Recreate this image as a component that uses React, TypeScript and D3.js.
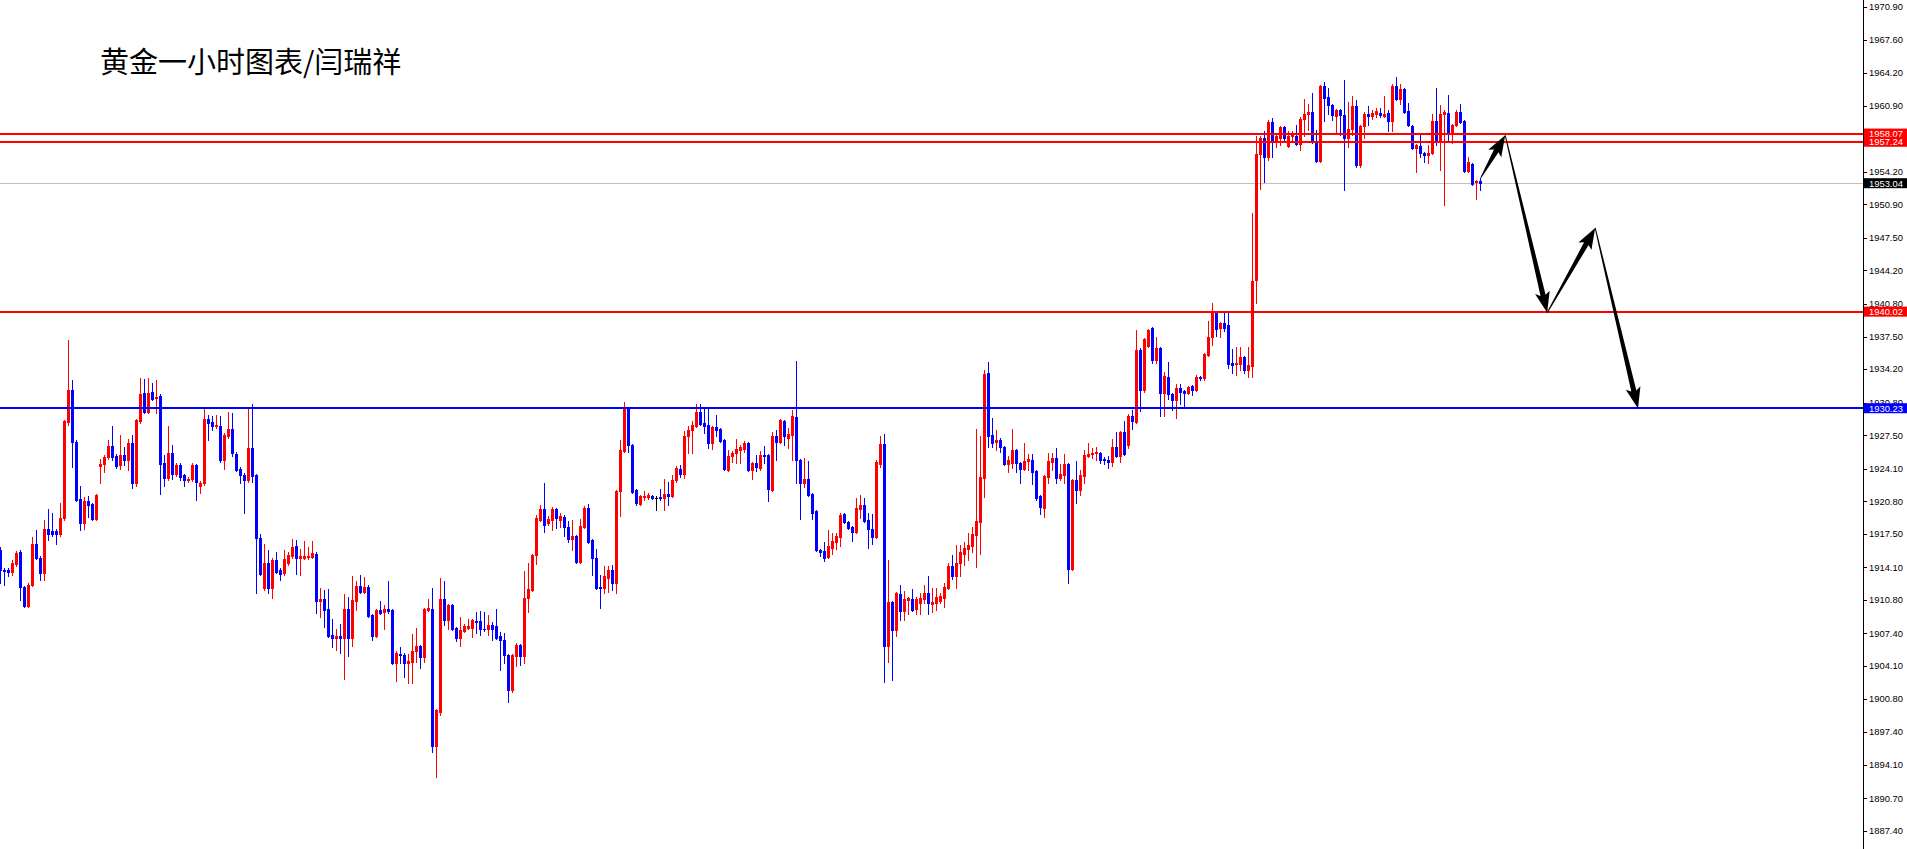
import * as d3 from "d3";
import React from "react";

// Gold 1H bars, index 0 = leftmost visible bar
const opens = [
  1915.9, 1913.8, 1913.8, 1913.6, 1914.4, 1915.7, 1912.1, 1910.2, 1912.3, 1916.5,
  1915.0, 1913.5, 1918.0, 1917.8, 1917.8, 1917.5, 1919.1, 1928.8, 1932.1, 1926.8,
  1921.0, 1918.6, 1920.8, 1920.5, 1919.0, 1924.4, 1924.6, 1925.3, 1926.4, 1925.4,
  1924.5, 1925.5, 1925.0, 1926.7, 1922.7, 1928.9, 1931.8, 1929.8, 1931.9, 1931.3,
  1931.5, 1924.7, 1923.2, 1925.7, 1923.6, 1924.5, 1923.5, 1923.0, 1923.1, 1924.5,
  1922.3, 1922.6, 1929.1, 1928.8, 1928.4, 1928.4, 1925.0, 1927.4, 1928.1, 1925.6,
  1924.1, 1923.5, 1923.0, 1926.2, 1923.5, 1917.1, 1912.0, 1914.5, 1912.0, 1914.8,
  1913.8, 1913.5, 1914.5, 1915.2, 1916.3, 1915.0, 1915.0, 1915.1, 1915.1, 1915.5,
  1910.7, 1910.9, 1909.9, 1907.2, 1906.9, 1907.1, 1906.9, 1909.9, 1906.9, 1910.7,
  1912.2, 1911.6, 1912.1, 1909.3, 1907.1, 1909.8, 1909.6, 1909.9, 1909.8, 1904.4,
  1905.3, 1905.2, 1904.4, 1904.5, 1905.6, 1906.1, 1905.0, 1909.8, 1909.9, 1896.0,
  1899.4, 1910.9, 1908.8, 1910.3, 1908.0, 1906.9, 1907.6, 1908.0, 1908.0, 1908.7,
  1908.7, 1907.9, 1907.8, 1908.3, 1908.2, 1907.1, 1906.7, 1905.2, 1901.7, 1905.1,
  1906.2, 1905.1, 1911.0, 1911.8, 1915.4, 1918.9, 1920.0, 1918.6, 1918.9, 1920.0,
  1918.9, 1919.2, 1918.2, 1917.0, 1917.3, 1914.6, 1918.2, 1920.1, 1916.9, 1915.0,
  1912.1, 1912.0, 1913.0, 1913.8, 1912.5, 1921.8, 1925.9, 1930.3, 1926.5, 1921.9,
  1920.5, 1921.2, 1921.2, 1921.3, 1921.1, 1921.2, 1921.1, 1921.5, 1921.3, 1923.0,
  1924.1, 1923.6, 1927.4, 1928.0, 1928.4, 1929.8, 1928.7, 1928.5, 1926.7, 1928.3,
  1928.1, 1927.0, 1924.0, 1925.4, 1925.7, 1926.0, 1926.1, 1926.7, 1924.0, 1924.7,
  1924.2, 1925.5, 1925.5, 1921.9, 1927.4, 1926.8, 1928.9, 1927.2, 1927.5, 1929.3,
  1925.0, 1922.6, 1923.1, 1921.5, 1919.8, 1915.9, 1915.8, 1915.1, 1916.1, 1916.7,
  1917.2, 1919.5, 1918.7, 1918.2, 1917.7, 1920.0, 1920.4, 1918.9, 1918.0, 1917.2,
  1924.6, 1926.6, 1906.1, 1910.6, 1907.7, 1911.4, 1909.7, 1910.8, 1910.9, 1909.9,
  1910.5, 1910.9, 1911.5, 1910.4, 1910.5, 1910.7, 1911.0, 1912.0, 1914.2, 1913.2,
  1914.5, 1915.5, 1916.0, 1916.3, 1917.4, 1918.7, 1923.2, 1933.8, 1927.5, 1926.8,
  1927.0, 1926.3, 1924.6, 1924.7, 1926.0, 1924.7, 1924.1, 1924.9, 1925.0, 1923.9,
  1921.3, 1920.1, 1923.3, 1924.8, 1925.2, 1923.2, 1923.5, 1924.6, 1913.9, 1923.0,
  1921.9, 1923.4, 1925.4, 1925.6, 1925.7, 1925.7, 1925.1, 1925.0, 1924.8, 1926.3,
  1925.4, 1927.8, 1926.5, 1929.4, 1928.8, 1936.1, 1932.1, 1936.5, 1938.4, 1935.1,
  1936.3, 1931.8, 1933.4, 1931.7, 1931.1, 1932.3, 1932.0, 1931.8, 1932.5, 1932.1,
  1933.4, 1933.3, 1935.6, 1937.5, 1940.0, 1938.4, 1938.9, 1938.7, 1934.8, 1934.7,
  1934.7, 1935.4, 1934.1, 1934.5, 1943.2, 1956.0, 1957.6, 1955.7, 1959.2, 1957.2,
  1957.6, 1958.7, 1956.8, 1957.8, 1957.8, 1957.0, 1959.5, 1960.1, 1960.3, 1957.2,
  1955.3, 1962.9, 1961.8, 1961.0, 1959.9, 1960.5, 1960.0, 1957.6, 1958.5, 1960.9,
  1954.9, 1958.8, 1960.1, 1959.9, 1960.1, 1960.2, 1959.9, 1960.2, 1959.3, 1962.9,
  1961.6, 1962.6, 1960.4, 1958.8, 1956.6, 1956.8, 1956.1, 1955.9, 1956.1, 1959.3,
  1957.4, 1960.1, 1960.2, 1958.2, 1958.9, 1960.3, 1959.3, 1954.3, 1955.0, 1953.2,
  1953.3,
];

const highs = [
  1916.2, 1914.0, 1914.0, 1914.8, 1915.8, 1915.9, 1912.2, 1912.5, 1917.2, 1917.9,
  1915.2, 1918.9, 1920.0, 1919.6, 1918.0, 1920.6, 1929.0, 1937.1, 1933.1, 1927.0,
  1922.3, 1921.2, 1921.3, 1920.6, 1921.5, 1925.1, 1925.5, 1927.0, 1928.4, 1925.6,
  1927.5, 1926.3, 1927.1, 1927.5, 1929.1, 1933.3, 1933.2, 1933.3, 1932.8, 1933.1,
  1931.7, 1925.5, 1928.4, 1926.5, 1924.7, 1924.7, 1923.6, 1923.3, 1924.7, 1924.6,
  1922.9, 1930.2, 1929.5, 1929.4, 1929.5, 1929.4, 1927.7, 1929.8, 1929.7, 1925.8,
  1924.3, 1923.7, 1930.2, 1930.7, 1923.6, 1917.5, 1916.5, 1915.9, 1915.0, 1915.7,
  1914.0, 1915.9, 1915.7, 1917.0, 1916.9, 1916.0, 1916.8, 1916.2, 1916.8, 1915.7,
  1912.0, 1911.8, 1911.9, 1908.9, 1907.8, 1908.4, 1911.4, 1911.1, 1913.2, 1912.7,
  1913.3, 1913.1, 1912.3, 1909.4, 1909.9, 1910.7, 1910.3, 1912.7, 1909.9, 1905.6,
  1906.0, 1905.4, 1905.3, 1907.3, 1908.0, 1906.2, 1910.0, 1910.9, 1912.0, 1899.7,
  1913.0, 1912.7, 1910.4, 1910.4, 1908.1, 1909.1, 1908.4, 1908.9, 1908.9, 1909.6,
  1909.7, 1909.6, 1909.3, 1908.6, 1909.9, 1907.5, 1907.4, 1905.3, 1905.3, 1906.4,
  1906.3, 1913.7, 1914.5, 1915.5, 1919.4, 1920.4, 1922.7, 1919.3, 1920.2, 1920.1,
  1919.6, 1919.4, 1918.8, 1918.9, 1917.4, 1919.0, 1920.3, 1920.5, 1917.0, 1916.0,
  1913.3, 1914.2, 1914.2, 1914.3, 1921.9, 1927.0, 1930.9, 1930.4, 1926.6, 1922.0,
  1921.4, 1921.8, 1921.6, 1921.4, 1921.3, 1922.0, 1923.1, 1922.8, 1923.5, 1924.4,
  1924.5, 1927.9, 1928.4, 1928.9, 1930.7, 1930.7, 1930.2, 1930.3, 1928.4, 1929.5,
  1928.2, 1927.1, 1926.0, 1925.9, 1927.1, 1926.5, 1926.9, 1926.8, 1924.8, 1925.5,
  1925.9, 1926.4, 1925.6, 1927.8, 1928.0, 1929.1, 1929.0, 1928.2, 1930.1, 1935.0,
  1925.1, 1925.2, 1924.9, 1921.6, 1919.9, 1916.0, 1916.7, 1917.9, 1917.6, 1917.6,
  1919.6, 1919.6, 1918.8, 1918.3, 1921.1, 1921.4, 1921.1, 1919.6, 1919.5, 1925.0,
  1927.4, 1927.6, 1914.8, 1910.7, 1911.6, 1912.3, 1911.7, 1911.1, 1911.9, 1911.1,
  1911.5, 1912.3, 1913.2, 1912.0, 1912.0, 1911.5, 1912.5, 1914.5, 1915.4, 1916.4,
  1916.4, 1916.7, 1917.6, 1918.2, 1928.1, 1927.4, 1934.1, 1934.9, 1929.2, 1928.0,
  1927.2, 1926.4, 1925.4, 1928.1, 1926.1, 1924.8, 1926.7, 1925.6, 1925.6, 1924.0,
  1921.4, 1923.5, 1925.7, 1925.7, 1926.2, 1924.6, 1925.6, 1924.7, 1923.1, 1924.9,
  1924.0, 1926.0, 1926.7, 1926.2, 1926.3, 1925.8, 1925.3, 1925.4, 1927.1, 1927.8,
  1927.9, 1928.9, 1929.6, 1930.0, 1938.2, 1936.3, 1937.3, 1938.3, 1938.5, 1937.4,
  1936.4, 1933.9, 1934.9, 1931.8, 1932.7, 1932.7, 1932.1, 1932.5, 1932.6, 1933.6,
  1933.5, 1935.8, 1939.1, 1940.9, 1940.1, 1939.0, 1940.0, 1940.0, 1936.2, 1936.4,
  1936.4, 1935.5, 1936.4, 1950.0, 1957.8, 1957.8, 1958.3, 1959.4, 1959.6, 1957.9,
  1958.8, 1958.8, 1958.3, 1958.3, 1958.9, 1959.8, 1961.6, 1961.1, 1962.2, 1958.4,
  1963.0, 1963.3, 1962.7, 1961.1, 1960.6, 1960.6, 1963.5, 1961.3, 1961.9, 1961.5,
  1958.9, 1960.3, 1960.9, 1960.5, 1960.7, 1960.7, 1961.9, 1960.5, 1963.1, 1963.8,
  1963.1, 1962.7, 1961.2, 1958.9, 1957.0, 1958.1, 1956.2, 1956.9, 1960.1, 1962.7,
  1961.0, 1960.5, 1962.0, 1959.0, 1960.5, 1961.1, 1959.4, 1955.7, 1955.1, 1953.4,
  1953.6,
];

const lows = [
  1912.5, 1912.3, 1913.2, 1913.3, 1914.2, 1910.8, 1910.1, 1910.1, 1912.2, 1914.9,
  1912.8, 1912.8, 1916.9, 1917.3, 1916.5, 1917.3, 1918.9, 1928.5, 1924.3, 1920.8,
  1917.9, 1918.0, 1919.2, 1918.9, 1918.9, 1922.6, 1923.8, 1925.1, 1925.0, 1924.2,
  1924.1, 1924.5, 1924.0, 1922.1, 1922.3, 1928.7, 1929.7, 1929.7, 1931.1, 1929.7,
  1921.5, 1922.3, 1923.0, 1923.1, 1923.4, 1923.0, 1922.3, 1922.8, 1922.9, 1920.9,
  1921.6, 1922.4, 1927.0, 1928.0, 1928.2, 1924.8, 1924.1, 1927.2, 1925.4, 1923.9,
  1922.6, 1919.6, 1922.8, 1922.8, 1911.5, 1913.3, 1911.8, 1911.5, 1911.0, 1913.5,
  1912.8, 1913.3, 1914.3, 1915.0, 1913.4, 1913.3, 1914.9, 1914.9, 1915.0, 1909.5,
  1909.1, 1908.1, 1907.0, 1906.0, 1905.7, 1905.4, 1902.8, 1905.1, 1906.1, 1909.8,
  1911.5, 1911.5, 1909.1, 1906.7, 1907.0, 1909.4, 1907.8, 1909.5, 1904.3, 1902.6,
  1904.4, 1903.0, 1902.4, 1902.4, 1904.5, 1903.9, 1904.5, 1909.7, 1895.4, 1892.8,
  1899.1, 1908.3, 1907.9, 1907.7, 1906.6, 1906.1, 1907.5, 1907.8, 1907.0, 1907.4,
  1907.2, 1907.6, 1907.2, 1906.7, 1906.8, 1903.7, 1904.4, 1900.5, 1901.5, 1904.1,
  1904.2, 1904.4, 1909.6, 1911.7, 1914.4, 1918.8, 1917.7, 1918.4, 1917.9, 1918.1,
  1918.2, 1917.3, 1916.7, 1915.9, 1914.5, 1914.5, 1918.1, 1916.6, 1913.3, 1911.9,
  1910.0, 1911.5, 1911.6, 1911.8, 1911.5, 1919.3, 1925.8, 1925.8, 1921.6, 1920.4,
  1920.4, 1920.9, 1921.0, 1921.0, 1919.9, 1920.9, 1919.9, 1920.4, 1921.2, 1922.8,
  1923.3, 1923.2, 1925.7, 1925.7, 1928.3, 1928.5, 1927.7, 1926.2, 1926.1, 1927.4,
  1926.8, 1924.0, 1923.9, 1924.8, 1924.7, 1924.7, 1925.8, 1923.9, 1923.1, 1923.9,
  1924.0, 1924.7, 1920.8, 1921.8, 1925.0, 1926.7, 1926.5, 1926.2, 1925.0, 1922.6,
  1919.0, 1922.2, 1921.3, 1919.0, 1915.8, 1915.3, 1914.7, 1915.0, 1915.5, 1916.0,
  1916.3, 1918.6, 1918.0, 1916.8, 1917.6, 1919.1, 1918.7, 1916.1, 1916.5, 1917.1,
  1924.3, 1902.5, 1904.5, 1902.7, 1907.1, 1908.8, 1908.8, 1909.4, 1909.7, 1909.4,
  1909.4, 1910.5, 1909.4, 1909.6, 1909.8, 1910.5, 1910.1, 1911.9, 1912.9, 1912.0,
  1913.2, 1914.3, 1914.8, 1915.7, 1914.1, 1915.5, 1921.2, 1926.3, 1926.3, 1926.0,
  1925.8, 1924.5, 1923.8, 1924.2, 1923.8, 1922.7, 1924.0, 1924.0, 1922.5, 1920.9,
  1919.5, 1919.2, 1922.6, 1924.0, 1922.7, 1923.0, 1922.7, 1912.5, 1913.8, 1920.6,
  1921.4, 1922.6, 1925.3, 1925.2, 1925.0, 1924.7, 1924.6, 1924.2, 1924.4, 1925.3,
  1924.8, 1925.5, 1926.2, 1928.1, 1928.7, 1929.9, 1931.9, 1936.4, 1934.8, 1934.8,
  1929.4, 1929.4, 1931.2, 1930.1, 1929.2, 1930.7, 1930.4, 1931.7, 1931.6, 1932.0,
  1933.1, 1933.1, 1935.5, 1936.6, 1937.6, 1937.5, 1938.1, 1934.3, 1933.8, 1933.6,
  1934.1, 1933.8, 1933.4, 1933.4, 1940.9, 1952.5, 1953.2, 1955.4, 1955.7, 1956.7,
  1956.9, 1957.4, 1956.7, 1957.4, 1956.9, 1956.4, 1957.8, 1958.4, 1957.1, 1955.2,
  1955.2, 1959.3, 1960.1, 1959.4, 1958.1, 1957.9, 1952.4, 1956.7, 1957.9, 1954.7,
  1954.7, 1957.6, 1958.9, 1959.5, 1959.8, 1959.8, 1959.8, 1958.3, 1958.3, 1961.5,
  1961.1, 1960.2, 1958.8, 1956.5, 1954.2, 1955.7, 1955.2, 1955.1, 1956.0, 1956.9,
  1954.4, 1950.8, 1957.4, 1957.1, 1958.8, 1959.1, 1954.2, 1954.2, 1952.9, 1951.4,
  1952.4,
];

const closes = [
  1913.8, 1913.7, 1913.6, 1914.5, 1915.6, 1912.1, 1910.2, 1912.3, 1916.5, 1915.0,
  1913.5, 1918.0, 1917.5, 1917.5, 1917.5, 1919.1, 1928.9, 1932.1, 1926.8, 1920.9,
  1918.6, 1920.8, 1920.4, 1919.0, 1921.4, 1924.6, 1925.3, 1926.4, 1925.3, 1924.4,
  1925.5, 1925.0, 1926.7, 1922.7, 1929.0, 1931.7, 1929.8, 1931.8, 1931.2, 1931.4,
  1924.6, 1923.2, 1925.7, 1923.6, 1924.5, 1923.3, 1923.0, 1923.1, 1924.5, 1922.8,
  1922.7, 1929.1, 1928.7, 1928.4, 1928.5, 1925.0, 1927.5, 1928.1, 1925.7, 1924.0,
  1923.5, 1923.0, 1926.2, 1923.4, 1917.1, 1913.4, 1914.5, 1912.0, 1914.8, 1913.6,
  1913.4, 1914.9, 1915.4, 1916.2, 1915.0, 1915.2, 1915.2, 1915.3, 1915.6, 1910.7,
  1910.9, 1909.8, 1907.1, 1906.9, 1907.1, 1906.9, 1909.9, 1906.9, 1910.8, 1912.2,
  1911.6, 1912.1, 1909.2, 1907.1, 1909.8, 1909.5, 1909.9, 1909.7, 1904.4, 1905.4,
  1905.2, 1904.4, 1904.6, 1905.6, 1906.1, 1905.0, 1909.9, 1910.0, 1896.0, 1899.6,
  1910.9, 1908.8, 1910.3, 1907.8, 1906.9, 1907.7, 1908.2, 1908.2, 1908.8, 1908.6,
  1907.8, 1907.8, 1908.3, 1907.8, 1906.9, 1906.7, 1905.2, 1901.7, 1905.2, 1906.2,
  1905.1, 1911.0, 1911.9, 1915.4, 1919.1, 1920.0, 1918.4, 1919.0, 1920.0, 1919.1,
  1919.3, 1918.2, 1917.0, 1917.3, 1914.6, 1918.3, 1920.1, 1916.7, 1915.0, 1912.0,
  1912.0, 1913.2, 1913.8, 1912.5, 1921.8, 1926.0, 1930.3, 1926.5, 1921.7, 1920.6,
  1921.3, 1921.3, 1921.4, 1921.1, 1921.1, 1921.1, 1921.5, 1921.3, 1923.0, 1924.2,
  1923.6, 1927.4, 1928.0, 1928.5, 1929.8, 1928.6, 1928.4, 1926.7, 1928.3, 1928.0,
  1926.9, 1924.1, 1925.4, 1925.7, 1926.1, 1926.3, 1926.7, 1924.0, 1924.7, 1924.3,
  1925.5, 1925.4, 1922.0, 1927.4, 1926.8, 1929.0, 1927.4, 1927.6, 1929.4, 1925.0,
  1922.6, 1923.1, 1921.4, 1919.6, 1915.9, 1915.7, 1915.0, 1916.3, 1916.8, 1917.3,
  1919.4, 1918.7, 1918.1, 1917.7, 1920.1, 1920.4, 1918.8, 1918.0, 1917.2, 1924.8,
  1926.6, 1906.1, 1910.6, 1907.7, 1911.5, 1909.7, 1910.9, 1911.0, 1909.8, 1910.9,
  1911.0, 1911.5, 1910.5, 1910.6, 1911.1, 1911.2, 1912.1, 1914.2, 1913.2, 1914.5,
  1915.7, 1916.1, 1916.4, 1917.5, 1918.8, 1923.3, 1933.7, 1927.4, 1926.7, 1927.0,
  1926.3, 1924.6, 1925.0, 1926.0, 1924.7, 1924.1, 1924.9, 1925.1, 1923.8, 1921.1,
  1920.2, 1923.4, 1924.9, 1925.2, 1923.2, 1923.6, 1924.6, 1913.9, 1923.0, 1921.9,
  1923.5, 1925.5, 1925.6, 1925.7, 1925.8, 1925.0, 1925.0, 1924.8, 1926.3, 1925.4,
  1927.8, 1925.6, 1929.4, 1928.9, 1936.1, 1932.1, 1937.2, 1938.2, 1935.1, 1936.3,
  1931.8, 1933.5, 1931.7, 1931.1, 1932.3, 1931.9, 1931.8, 1932.4, 1932.1, 1933.4,
  1933.3, 1935.7, 1937.5, 1940.0, 1938.3, 1938.9, 1938.4, 1934.7, 1934.6, 1934.8,
  1935.4, 1934.1, 1934.6, 1943.1, 1956.0, 1957.6, 1955.7, 1959.2, 1957.2, 1957.8,
  1958.7, 1957.6, 1957.8, 1957.9, 1957.0, 1959.5, 1960.1, 1960.3, 1957.2, 1955.3,
  1962.9, 1961.7, 1961.0, 1960.0, 1960.5, 1960.0, 1957.6, 1958.5, 1960.9, 1954.9,
  1958.8, 1960.1, 1959.9, 1960.2, 1960.4, 1960.0, 1960.1, 1959.3, 1962.9, 1961.6,
  1962.6, 1960.3, 1958.9, 1956.6, 1956.9, 1956.1, 1955.9, 1956.1, 1959.3, 1957.4,
  1960.1, 1960.3, 1958.2, 1958.9, 1960.3, 1959.2, 1954.3, 1955.2, 1953.0, 1953.3,
  1953.04,
];

// MT4-style price scale labels; 1957.50 sits under the level tags like in the original
const priceTicks = [
  "1970.90", "1967.60", "1964.20", "1960.90", "1957.50", "1954.20", "1950.90",
  "1947.50", "1944.20", "1940.80", "1937.50", "1934.20", "1930.80", "1927.50",
  "1924.10", "1920.80", "1917.50", "1914.10", "1910.80", "1907.40", "1904.10",
  "1900.80", "1897.40", "1894.10", "1890.70", "1887.40",
];

const redLevels = [1958.07, 1957.24, 1940.02];
const blueLevels = [1930.23];
const bidPrice = 1953.04;

// hand drawn forecast path: bar index (past the last bar) and price
const arrowBars = [370.2, 376.3, 386.8, 398.8, 409.5];
const arrowPrices = [1953.6, 1957.9, 1939.9, 1948.5, 1930.2];

const title = "黄金一小时图表/闫瑞祥";

const width = 1907;
const height = 849;
const axisX = 1863;
const barStep = 4;
const RED = "#ff0000";
const BLUE = "#0000ff";
const axisFont = "'Liberation Sans', Arial, sans-serif";

function arrowPath(x0: number, y0: number, x1: number, y1: number) {
  const len = Math.hypot(x1 - x0, y1 - y0);
  const ux = (x1 - x0) / len;
  const uy = (y1 - y0) / len;
  const nx = -uy;
  const ny = ux;
  const headLen = 18;
  const headW = 7.5;
  const neck = 2.6;
  const tail = 0.5;
  const bx = x1 - ux * headLen;
  const by = y1 - uy * headLen;
  const pts: [number, number][] = [
    [x0 + nx * tail, y0 + ny * tail],
    [bx + nx * neck, by + ny * neck],
    [bx + nx * headW - ux * 3, by + ny * headW - uy * 3],
    [x1, y1],
    [bx - nx * headW - ux * 3, by - ny * headW - uy * 3],
    [bx - nx * neck, by - ny * neck],
    [x0 - nx * tail, y0 - ny * tail],
  ];
  return d3.line()(pts) + "Z";
}

export default function App() {
  const y = d3.scaleLinear().domain([1885.55, 1971.61]).range([height, 0]);
  const x = d3
    .scaleLinear()
    .domain([0, axisX / barStep])
    .range([0, axisX]);

  const boxLabel = (price: number, fill: string, key: string) => {
    const yc = y(price);
    return (
      <g key={key}>
        <rect x={axisX + 1} y={yc - 5} width={width - axisX - 1} height={10} fill={fill} />
        <text
          x={axisX + 6}
          y={yc}
          dy="0.36em"
          fontSize={9.4}
          fontFamily={axisFont}
          fill="#ffffff"
        >
          {price.toFixed(2)}
        </text>
      </g>
    );
  };

  return (
    <svg
      width={width}
      height={height}
      style={{ position: "fixed", left: 0, top: 0, background: "#fff" }}
    >
      <rect x={0} y={0} width={width} height={height} fill="#ffffff" />

      {/* bid line */}
      <line
        x1={0}
        x2={axisX}
        y1={Math.round(y(bidPrice)) + 0.5}
        y2={Math.round(y(bidPrice)) + 0.5}
        stroke="#c0c0c0"
        strokeWidth={1}
      />

      {/* candles */}
      <g shapeRendering="crispEdges">
        {opens.map((o, i) => {
          const c = closes[i];
          const color = c > o ? RED : c < o ? BLUE : "#000000";
          const cx = Math.round(x(i));
          const hi = Math.round(y(highs[i]));
          const lo = Math.round(y(lows[i]));
          const top = Math.round(y(Math.max(o, c)));
          const bot = Math.round(y(Math.min(o, c)));
          return (
            <g key={`bar-${i}`} fill={color}>
              <rect x={cx} y={hi} width={1} height={Math.max(1, lo - hi + 1)} />
              <rect x={cx - 1} y={top} width={3} height={Math.max(1, bot - top + 1)} />
            </g>
          );
        })}
      </g>

      {/* horizontal levels */}
      {redLevels.map((p) => (
        <line
          key={`r-${p}`}
          x1={0}
          x2={axisX}
          y1={Math.round(y(p))}
          y2={Math.round(y(p))}
          stroke={RED}
          strokeWidth={2}
        />
      ))}
      {blueLevels.map((p) => (
        <line
          key={`b-${p}`}
          x1={0}
          x2={axisX}
          y1={Math.round(y(p))}
          y2={Math.round(y(p))}
          stroke={BLUE}
          strokeWidth={2}
        />
      ))}

      {/* forecast arrows */}
      {arrowBars.slice(1).map((b, k) => (
        <path
          key={`arrow-${k}`}
          d={arrowPath(x(arrowBars[k]), y(arrowPrices[k]), x(b), y(arrowPrices[k + 1]))}
          fill="#000000"
        />
      ))}

      {/* price axis */}
      <rect x={axisX} y={0} width={width - axisX} height={height} fill="#ffffff" />
      <line x1={axisX + 0.5} x2={axisX + 0.5} y1={0} y2={height} stroke="#000" strokeWidth={1} />
      {priceTicks.map((t) => {
        const ty = Math.round(y(+t)) + 0.5;
        return (
          <g key={`t-${t}`}>
            <line x1={axisX} x2={axisX + 4} y1={ty} y2={ty} stroke="#000" strokeWidth={1} />
            <text
              x={axisX + 6}
              y={y(+t)}
              dy="0.36em"
              fontSize={9.4}
              fontFamily={axisFont}
              fill="#000000"
            >
              {t}
            </text>
          </g>
        );
      })}

      {boxLabel(redLevels[0], RED, "l0")}
      {boxLabel(redLevels[1], RED, "l1")}
      {boxLabel(bidPrice, "#000000", "bid")}
      {boxLabel(redLevels[2], RED, "l2")}
      {boxLabel(blueLevels[0], BLUE, "l3")}

      <text
        x={100}
        y={73}
        fontSize={29}
        fontFamily="'Noto Sans CJK SC', sans-serif"
        fill="#000000"
      >
        {title}
      </text>
    </svg>
  );
}
